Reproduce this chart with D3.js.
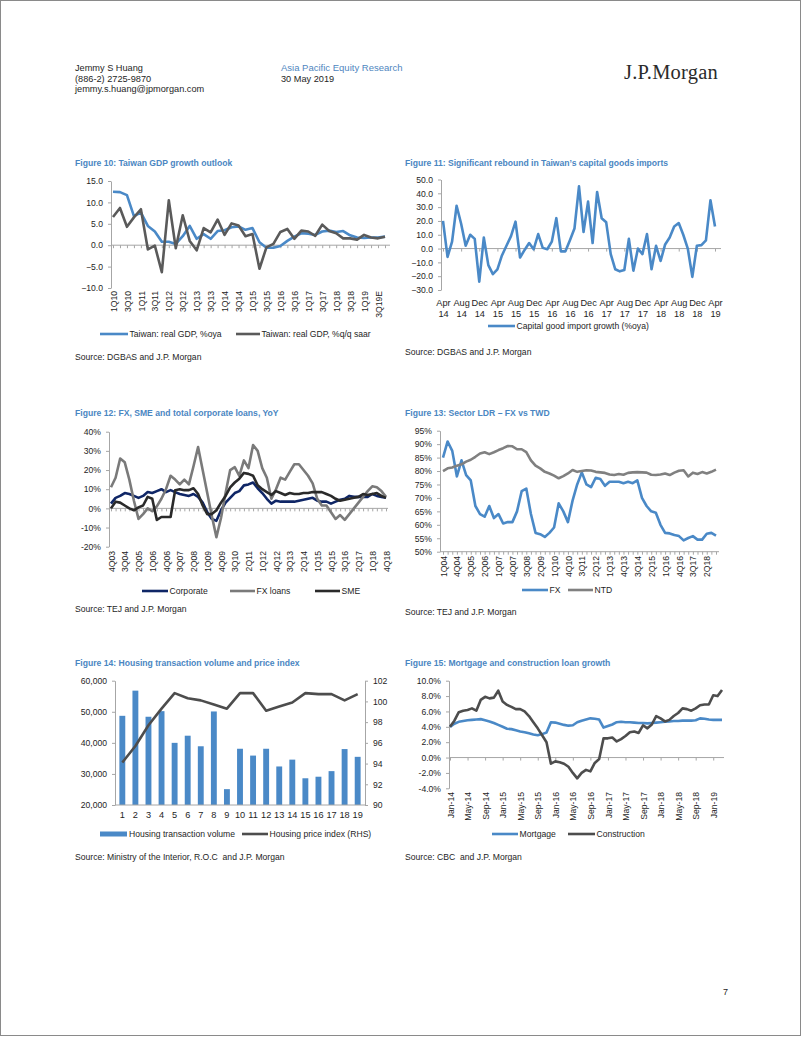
<!DOCTYPE html>
<html><head><meta charset="utf-8">
<script src="https://cdn.jsdelivr.net/npm/d3@7"></script>
<style>
body{margin:0;background:#fff;}
svg{display:block;}
</style></head><body>
<script>
const S = s => s.trim().split(/\s+/);

// ---------- Figure 10 ----------
const fig10Cats = S(`1Q10 2Q10 3Q10 4Q10 1Q11 2Q11 3Q11 4Q11 1Q12 2Q12 3Q12 4Q12 1Q13 2Q13 3Q13 4Q13 1Q14 2Q14 3Q14 4Q14 1Q15 2Q15 3Q15 4Q15 1Q16 2Q16 3Q16 4Q16 1Q17 2Q17 3Q17 4Q17 1Q18 2Q18 3Q18 4Q18 1Q19 2Q19E 3Q19E 4Q19E`);
const fig10Ticks = S(`1Q10 3Q10 1Q11 3Q11 1Q12 3Q12 1Q13 3Q13 1Q14 3Q14 1Q15 3Q15 1Q16 3Q16 1Q17 3Q17 1Q18 3Q18 1Q19 3Q19E`);
const fig10Oya = [12.5,12.4,11.7,6.8, 7.6,4.5,3.2,0.8, 0.8,0.3,2.1,4.5, 1.5,2.6,1.5,3.3, 3.5,4.2,4.4,3.6, 4.0,0.7,-0.6,-0.6, -0.2,1.0,2.0,2.8, 2.7,2.4,3.2,3.4, 3.1,3.3,2.3,1.8, 1.7,1.8,1.8,2.0];
const fig10Saar = [6.6,8.7,4.3,6.5, 8.4,-1.0,-0.1,-6.3, 10.5,-0.7,7.0,1.0, -1.2,4.0,3.0,6.0, 2.4,5.1,4.6,2.1, 2.6,-5.5,-0.5,0.3, 3.1,3.8,1.5,3.4, 3.2,2.2,4.8,3.3, 2.8,1.6,1.6,1.3, 2.4,1.8,1.6,2.0];
const fig10YTicks = [-10,-5,0,5,10,15];

// ---------- Figure 11 ----------
const fig11Cats = S(`Apr-14 May-14 Jun-14 Jul-14 Aug-14 Sep-14 Oct-14 Nov-14 Dec-14 Jan-15 Feb-15 Mar-15 Apr-15 May-15 Jun-15 Jul-15 Aug-15 Sep-15 Oct-15 Nov-15 Dec-15 Jan-16 Feb-16 Mar-16 Apr-16 May-16 Jun-16 Jul-16 Aug-16 Sep-16 Oct-16 Nov-16 Dec-16 Jan-17 Feb-17 Mar-17 Apr-17 May-17 Jun-17 Jul-17 Aug-17 Sep-17 Oct-17 Nov-17 Dec-17 Jan-18 Feb-18 Mar-18 Apr-18 May-18 Jun-18 Jul-18 Aug-18 Sep-18 Oct-18 Nov-18 Dec-18 Jan-19 Feb-19 Mar-19 Apr-19`);
const fig11Ticks = S(`Apr-14 Aug-14 Dec-14 Apr-15 Aug-15 Dec-15 Apr-16 Aug-16 Dec-16 Apr-17 Aug-17 Dec-17 Apr-18 Aug-18 Dec-18 Apr-19`);
const fig11Capex = [20,-6,5,31,18, 2,10,7,-24,8, -12,-18.5,-15,-5,2, 9,19.5,-6.5,-1,4, -0.5,10.5,0.5,-0.5,5, 22,-2,-2,6,14.5, 45,12,34,4,41, 22,19,-4,-15,-16.5, -15.5,7,-16,0,-4, 10.5,-15,2,-9,3, 8,16,18.5,10,0, -20.5,2,2.5,6,35, 16];
const fig11YTicks = [-30,-20,-10,0,10,20,30,40,50];

// ---------- Figure 12 ----------
const fig12Cats = S(`4Q03 1Q04 2Q04 3Q04 4Q04 1Q05 2Q05 3Q05 4Q05 1Q06 2Q06 3Q06 4Q06 1Q07 2Q07 3Q07 4Q07 1Q08 2Q08 3Q08 4Q08 1Q09 2Q09 3Q09 4Q09 1Q10 2Q10 3Q10 4Q10 1Q11 2Q11 3Q11 4Q11 1Q12 2Q12 3Q12 4Q12 1Q13 2Q13 3Q13 4Q13 1Q14 2Q14 3Q14 4Q14 1Q15 2Q15 3Q15 4Q15 1Q16 2Q16 3Q16 4Q16 1Q17 2Q17 3Q17 4Q17 1Q18 2Q18 3Q18 4Q18`);
const fig12Ticks = S(`4Q03 3Q04 2Q05 1Q06 4Q06 3Q07 2Q08 1Q09 4Q09 3Q10 2Q11 1Q12 4Q12 3Q13 2Q14 1Q15 4Q15 3Q16 2Q17 1Q18 4Q18`);
const fig12Corporate = [2.5,5.5,6.5,8,7.5, 6.5,5.5,6.5,8.5,8, 9,10,8.5,9.5,8.5, 7.5,7,6.5,7.5,6, 3,-2,-5.5,-6.5,-1, 3,5.5,8,9,12, 12.5,13.5,10.5,8,5, 2.5,4,3.5,3.5,3.5, 3.5,4,4.5,5,5.5, 4,3.5,3.5,2.5,3.5, 4.5,5,6.5,6,6, 6,6,7.5,6.5,6, 5.5];
const fig12FX = [11,16,26,24,15, 4,-5.5,-3,0,-1.5, 1,5,10,17,15, 12.5,15,12.5,22,32, 20,8,-4,-15,-5, 8,20,21.5,17,25, 21,33,30,21,16, 5,10,16,15,19, 23,23,20,17,13, 5,1.5,1.5,-2,-5.5, -3.5,-6,-3,0,3, 6,9,11.5,11,9, 6];
const fig12SME = [0,3.5,3,1.5,0, -1,0.5,1.5,6,5, -6,-4.5,-4.5,-4.5,9.5, 10,9.5,9.5,10.5,7.5, 1.5,-3,-3,-1,3, 6.5,11,13.5,15.5,18.5, 18,17,12,10,8.5, 7,9,8,7,8, 7.5,7.5,8,8,8.5, 8.5,8.5,7.5,6.5,5, 4,4.5,5,5.5,6, 7.5,7,7.5,8,6.5, 5.5];
const fig12YTicks = [-20,-10,0,10,20,30,40];

// ---------- Figure 13 ----------
const fig13Cats = S(`1Q04 2Q04 3Q04 4Q04 1Q05 2Q05 3Q05 4Q05 1Q06 2Q06 3Q06 4Q06 1Q07 2Q07 3Q07 4Q07 1Q08 2Q08 3Q08 4Q08 1Q09 2Q09 3Q09 4Q09 1Q10 2Q10 3Q10 4Q10 1Q11 2Q11 3Q11 4Q11 1Q12 2Q12 3Q12 4Q12 1Q13 2Q13 3Q13 4Q13 1Q14 2Q14 3Q14 4Q14 1Q15 2Q15 3Q15 4Q15 1Q16 2Q16 3Q16 4Q16 1Q17 2Q17 3Q17 4Q17 1Q18 2Q18 3Q18 4Q18`);
const fig13Ticks = S(`1Q04 4Q04 3Q05 2Q06 1Q07 4Q07 3Q08 2Q09 1Q10 4Q10 3Q11 2Q12 1Q13 4Q13 3Q14 2Q15 1Q16 4Q16 3Q17 2Q18`);
const fig13FX = [85,91,87.5,78,84, 78.5,76.5,67,64,63, 67,62.5,64,60.5,61, 61,65,72.5,73.5,64, 57,56.5,55.5,57,59, 68,65,61,69,75, 79.5,75,74,77.5,77, 74.5,76,76,76,75.5, 76,75.5,76.5,70,67, 65,64.5,60,57,56.8, 56.2,55.8,54.2,55.1,55.8, 54.5,54.5,56.7,57,56];
const fig13NTD = [80,81,81.3,82,82.5, 83.5,84.2,85.3,86.5,87, 86.3,87,87.8,88.5,89.3, 89.2,88.1,88.1,87,84, 82,81,79.7,79.1,78.3, 77.3,78.1,79.1,80.4,79.7, 80,80.3,80.2,79.7,79.5, 79.3,78.7,78.5,78.9,78.6, 79.3,79.5,79.6,79.5,79.4, 78.6,78.5,78.7,79.1,78.5, 79.4,80.1,80.3,78,79.4, 78.9,79.6,79.1,79.7,80.5];
const fig13YTicks = [50,55,60,65,70,75,80,85,90,95];

// ---------- Figure 14 ----------
const fig14Cats = ["1","2","3","4","5","6","7","8","9","10","11","12","13","14","15","16","17","18","19"];
const fig14Volume = [48700,56800,48400,50200,40000,42300,38900,50100,25100,38100,35900,38100,32400,34600,28600,29100,30900,38000,35500];
const fig14Price = [94.1,95.7,97.7,99.3,100.8,100.3,100.1,99.7,99.3,100.8,100.8,99.1,99.5,99.9,100.8,100.7,100.7,100.1,100.7];
const fig14LTicks = [20000,30000,40000,50000,60000];
const fig14RTicks = [90,92,94,96,98,100,102];

// ---------- Figure 15 ----------
const fig15Cats = S(`Jan-14 Feb-14 Mar-14 Apr-14 May-14 Jun-14 Jul-14 Aug-14 Sep-14 Oct-14 Nov-14 Dec-14 Jan-15 Feb-15 Mar-15 Apr-15 May-15 Jun-15 Jul-15 Aug-15 Sep-15 Oct-15 Nov-15 Dec-15 Jan-16 Feb-16 Mar-16 Apr-16 May-16 Jun-16 Jul-16 Aug-16 Sep-16 Oct-16 Nov-16 Dec-16 Jan-17 Feb-17 Mar-17 Apr-17 May-17 Jun-17 Jul-17 Aug-17 Sep-17 Oct-17 Nov-17 Dec-17 Jan-18 Feb-18 Mar-18 Apr-18 May-18 Jun-18 Jul-18 Aug-18 Sep-18 Oct-18 Nov-18 Dec-18 Jan-19 Feb-19 Mar-19`);
const fig15Ticks = S(`Jan-14 May-14 Sep-14 Jan-15 May-15 Sep-15 Jan-16 May-16 Sep-16 Jan-17 May-17 Sep-17 Jan-18 May-18 Sep-18 Jan-19`);
const fig15Mortgage = [4.0,4.4,4.65,4.75,4.85, 4.9,4.95,5.0,4.85,4.7, 4.5,4.25,4.0,3.75,3.7, 3.55,3.4,3.3,3.15,3.0, 2.9,3.05,3.25,4.6,4.55, 4.4,4.25,4.15,4.2,4.6, 4.8,4.95,5.1,5.05,4.95, 3.9,4.1,4.3,4.6,4.65, 4.6,4.6,4.55,4.5,4.5, 4.45,4.5,4.55,4.6,4.65, 4.7,4.75,4.75,4.8,4.8, 4.8,4.85,5.1,5.05,4.95, 4.9,4.9,4.9];
const fig15Construction = [4.0,4.8,5.9,6.1,6.2, 6.4,6.1,7.5,7.9,7.7, 7.8,8.7,7.3,6.85,6.6, 6.3,6.3,6.0,5.4,4.6, 3.8,2.9,2.0,-0.8,-0.5, -0.6,-0.8,-1.2,-2.0,-2.7, -2.0,-1.6,-1.8,-0.7,-0.2, 2.5,2.5,2.6,2.1,2.4, 2.8,3.3,3.4,3.2,4.2, 3.8,4.3,5.4,5.1,4.7, 4.9,5.4,5.8,6.4,6.3, 6.1,6.4,6.8,6.9,6.9, 8.1,8.0,8.8];
const fig15YTicks = [-4,-2,0,2,4,6,8,10];

// ---------- styles ----------
const FONT = '"Liberation Sans", Arial, Helvetica, sans-serif';
const FS = 8.6;
const TXT = "#1e1e1e";
const AX = "#a6a6a6";
const BLUE = "#4a89c7";
const TITLE = "#4a86c2";
const NAVY = "#0f2666";
const GRAY = "#808080";
const LW = 2.6;

const svg = d3.select("body").append("svg").attr("width",802).attr("height",1037).attr("font-family",FONT);
svg.append("rect").attr("x",0.5).attr("y",0.5).attr("width",800).attr("height",1035).attr("fill","#fff").attr("stroke","#8a8a8a");

function text(x,y,s,o={}){
  const t = svg.append("text").attr("x",x).attr("y",y).text(s)
    .attr("font-size",o.size||FS).attr("fill",o.fill||TXT);
  if(o.weight) t.attr("font-weight",o.weight);
  if(o.anchor) t.attr("text-anchor",o.anchor);
  if(o.family) t.attr("font-family",o.family);
  if(o.ls) t.attr("letter-spacing",o.ls);
  return t;
}
function styleAxis(g){
  g.select(".domain").attr("stroke",AX);
  g.selectAll(".tick line").attr("stroke",AX);
  g.selectAll(".tick text").attr("font-size",FS).attr("fill",TXT).attr("font-family",FONT);
}
function yAxis(scale,x,ticks,fmt,right){
  const ax = (right?d3.axisRight(scale):d3.axisLeft(scale)).tickValues(ticks).tickFormat(fmt).tickSize(3).tickSizeOuter(0).tickPadding(5);
  const g = svg.append("g").attr("transform",`translate(${x},0)`).call(ax);
  styleAxis(g); return g;
}
function baseAxis(xs,cats,x0,x1,y){
  svg.append("line").attr("x1",x0).attr("x2",x1).attr("y1",y).attr("y2",y).attr("stroke",AX);
  const g = svg.append("g").attr("transform",`translate(0,${y})`).call(d3.axisBottom(xs).tickValues(cats).tickFormat("").tickSize(3).tickSizeOuter(0));
  g.select(".domain").remove();
  g.selectAll(".tick line").attr("stroke",AX);
}
function rotLabels(xs,ticks,y){
  const g = svg.append("g").attr("transform",`translate(0,${y})`).call(d3.axisBottom(xs).tickValues(ticks).tickSize(0).tickPadding(0));
  g.select(".domain").remove();
  g.selectAll(".tick text").attr("transform","rotate(-90)").attr("x",0).attr("y",0).attr("dy","0.36em")
    .attr("text-anchor","end").attr("font-size",FS).attr("fill",TXT).attr("font-family",FONT);
}
function series(xs,ys,cats,vals,color,w){
  svg.append("path").datum(vals).attr("fill","none").attr("stroke",color).attr("stroke-width",w||LW)
    .attr("stroke-linejoin","round").attr("stroke-linecap","butt")
    .attr("d", d3.line().x((d,i)=>xs(cats[i])).y(d=>ys(d)));
}
function legLine(x0,x1,y,color,label){
  svg.append("line").attr("x1",x0).attr("x2",x1).attr("y1",y).attr("y2",y).attr("stroke",color).attr("stroke-width",2.6);
  text(x1+1.5,y+3,label);
}

// ---------- header ----------
text(75,71,"Jemmy S Huang",{size:9.2});
text(75,81.5,"(886-2) 2725-9870",{size:9.2});
text(75,92,"jemmy.s.huang@jpmorgan.com",{size:9.2});
text(281,71,"Asia Pacific Equity Research",{size:9.5,fill:"#4f86c0"});
text(281,81.5,"30 May 2019",{size:9.2});
text(624,78.5,"J.P.Morgan",{size:20.5,family:'"Liberation Serif","Times New Roman",serif',fill:"#2b2b2b",ls:0.2});
text(723,995,"7",{size:9});

// ---------- Figure 10 ----------
{
  text(75,166,"Figure 10: Taiwan GDP growth outlook",{weight:"bold",fill:TITLE});
  const x = d3.scalePoint().domain(fig10Cats).range([113,385]);
  const y = d3.scaleLinear().domain([-10,15]).range([288,181]);
  yAxis(y,111,fig10YTicks,d3.format(".1f"));
  baseAxis(x,fig10Cats,111,390,y(0));
  series(x,y,fig10Cats,fig10Oya,BLUE);
  series(x,y,fig10Cats,fig10Saar,"#5a5a5a");
  rotLabels(x,fig10Ticks,291);
  legLine(100,128,334,BLUE,"Taiwan: real GDP, %oya");
  legLine(236,260,334,"#5a5a5a","Taiwan: real GDP, %q/q saar");
  text(75,360,"Source: DGBAS and J.P. Morgan");
}

// ---------- Figure 11 ----------
{
  text(405,166,"Figure 11: Significant rebound in Taiwan\u2019s capital goods imports",{weight:"bold",fill:TITLE});
  const x = d3.scalePoint().domain(fig11Cats).range([443,715]);
  const y = d3.scaleLinear().domain([-30,50]).range([290,179.5]);
  yAxis(y,441,fig11YTicks,d3.format(".1f"));
  baseAxis(x,fig11Ticks,441,721,y(0));
  series(x,y,fig11Cats,fig11Capex,BLUE);
  const g = svg.append("g").attr("transform","translate(0,290)").call(d3.axisBottom(x).tickValues(fig11Ticks).tickSize(0).tickFormat(""));
  g.select(".domain").remove();
  g.selectAll(".tick").each(function(d){
    const t = d3.select(this).append("text").attr("text-anchor","middle").attr("font-size",FS+0.6).attr("fill",TXT).attr("font-family",FONT);
    const [m,yr] = d.split("-");
    t.append("tspan").attr("x",0).attr("y",15.5).text(m);
    t.append("tspan").attr("x",0).attr("y",26.5).text(yr);
  });
  legLine(488,515,326,BLUE,"Capital good import growth (%oya)");
  text(405,354.5,"Source: DGBAS and J.P. Morgan");
}

// ---------- Figure 12 ----------
{
  text(75,416,"Figure 12: FX, SME and total corporate loans, YoY",{weight:"bold",fill:TITLE});
  const x = d3.scalePoint().domain(fig12Cats).range([111,386]);
  const y = d3.scaleLinear().domain([-20,40]).range([546.7,431.7]);
  yAxis(y,109,fig12YTicks,d=>d+"%");
  baseAxis(x,fig12Cats,109,388,y(0));
  series(x,y,fig12Cats,fig12Corporate,NAVY);
  series(x,y,fig12Cats,fig12FX,"#7a7a7a");
  series(x,y,fig12Cats,fig12SME,"#2a2a2a");
  rotLabels(x,fig12Ticks,551);
  legLine(142,168,591,NAVY,"Corporate");
  legLine(230,255,591,"#7a7a7a","FX loans");
  legLine(315,340,591,"#2a2a2a","SME");
  text(75,611.5,"Source: TEJ and J.P. Morgan");
}

// ---------- Figure 13 ----------
{
  text(405,416,"Figure 13: Sector LDR \u2013 FX vs TWD",{weight:"bold",fill:TITLE});
  const x = d3.scalePoint().domain(fig13Cats).range([443,716]);
  const y = d3.scaleLinear().domain([50,95]).range([551.7,430.7]);
  yAxis(y,440,fig13YTicks,d=>d+"%");
  baseAxis(x,fig13Cats,440,719,y(50));
  series(x,y,fig13Cats,fig13FX,BLUE);
  series(x,y,fig13Cats,fig13NTD,GRAY);
  rotLabels(x,fig13Ticks,556);
  legLine(522,548,590,BLUE,"FX");
  legLine(568,593,590,GRAY,"NTD");
  text(405,615,"Source: TEJ and J.P. Morgan");
}

// ---------- Figure 14 ----------
{
  text(75,666,"Figure 14: Housing transaction volume and price index",{weight:"bold",fill:TITLE});
  const x = d3.scaleBand().domain(fig14Cats).range([115,365]).paddingInner(0.55).paddingOuter(0.335);
  const yL = d3.scaleLinear().domain([20000,60000]).range([805,680.7]);
  const yR = d3.scaleLinear().domain([90,102]).range([805,680.7]);
  svg.append("g").selectAll("rect").data(fig14Volume).join("rect")
    .attr("x",(d,i)=>x(fig14Cats[i])).attr("width",x.bandwidth())
    .attr("y",d=>yL(d)).attr("height",d=>yL(20000)-yL(d)).attr("fill",BLUE);
  yAxis(yL,115,fig14LTicks,d3.format(","));
  yAxis(yR,365,fig14RTicks,d3.format("d"),true);
  svg.append("line").attr("x1",115).attr("x2",365).attr("y1",805).attr("y2",805).attr("stroke",AX);
  svg.append("path").datum(fig14Price).attr("fill","none").attr("stroke","#4d4d4d").attr("stroke-width",LW)
    .attr("stroke-linejoin","round")
    .attr("d", d3.line().x((d,i)=>x(fig14Cats[i])+x.bandwidth()/2).y(d=>yR(d)));
  const g = svg.append("g").attr("transform","translate(0,805)").call(d3.axisBottom(x).tickSize(0).tickPadding(6));
  g.select(".domain").remove();
  g.selectAll(".tick text").attr("font-size",FS+0.6).attr("fill",TXT).attr("font-family",FONT);
  svg.append("rect").attr("x",100).attr("y",831.5).attr("width",27).attr("height",5).attr("fill",BLUE);
  text(129,837,"Housing transaction volume");
  legLine(242,268,834,"#4d4d4d","Housing price index (RHS)");
  text(75,860,"Source: Ministry of the Interior, R.O.C  and J.P. Morgan").attr("xml:space","preserve");
}

// ---------- Figure 15 ----------
{
  text(405,666,"Figure 15: Mortgage and construction loan growth",{weight:"bold",fill:TITLE});
  const x = d3.scalePoint().domain(fig15Cats).range([450,722]);
  const y = d3.scaleLinear().domain([-4,10]).range([788.3,680.7]);
  yAxis(y,449,fig15YTicks,d=>d.toFixed(1)+"%");
  baseAxis(x,fig15Ticks,449,724,y(0));
  series(x,y,fig15Cats,fig15Mortgage,BLUE);
  series(x,y,fig15Cats,fig15Construction,"#4d4d4d");
  rotLabels(x,fig15Ticks,792);
  legLine(492,518,834,BLUE,"Mortgage");
  legLine(568,595,834,"#4d4d4d","Construction");
  text(405,860,"Source: CBC  and J.P. Morgan").attr("xml:space","preserve");
}
</script>
</body></html>
